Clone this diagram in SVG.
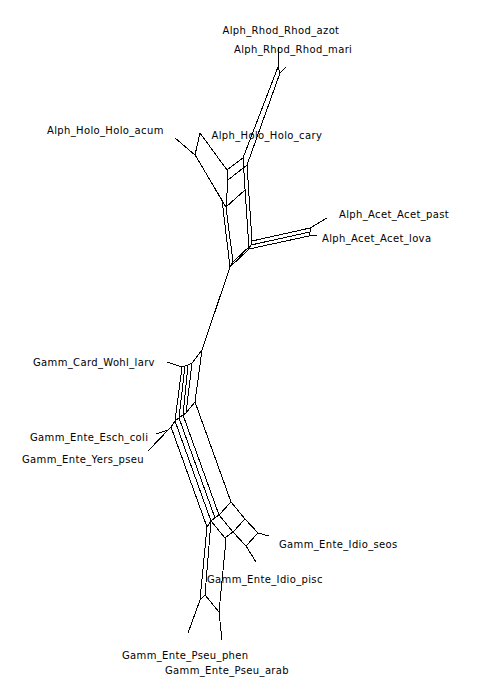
<svg xmlns="http://www.w3.org/2000/svg" width="479" height="700" viewBox="0 0 479 700">
<style>
.e{stroke:#000;stroke-width:1;fill:none;shape-rendering:crispEdges}
.t{font-family:"DejaVu Sans","Liberation Sans",sans-serif;font-size:10px;letter-spacing:0.35px;fill:#000}
</style>
<rect width="479" height="700" fill="#fff"/>
<g id="splits" class="e">
<!-- Alpha: Rhod box -->
<path d="M278,67 L280,73 M278,67 L243,158 M280,73 L247,165"/>
<!-- Holo region -->
<path d="M195,155 L200,133 L227,170 M195,155 L222,200 M195,155 L197,158 L224,204 L226,207"/>
<path d="M227,170 L228,180 L226,207 M227,170 L243,158 M228,180 L247,165 M226,207 L245,190"/>
<!-- vertical pairs -->
<path d="M243,158 L249,249 M247,165 L252,241 M222,200 L230,267 M226,207 L233,262"/>
<!-- root connectors -->
<path d="M252,241 L251,245 L249,249 M249,249 L230,267 M251,245 L233,262 M230,267 L233,262"/>
<!-- Acet -->
<path d="M252,241 L310,228 M251,245 L310,232 M249,249 L309,236 M310,228 L310,232 L309,236"/>
<!-- central edge -->
<path d="M230,267 L202,350"/>
<!-- Gamma top -->
<path d="M202,350 L192,363 L188,365 L185,366 L182,367"/>
<path d="M182,367 L175,421 M185,366 L179,418 M188,365 L183,415 M192,363 L186,413 M202,350 L195,402"/>
<path d="M171,427 L175,421 L179,418 L183,415 L186,413 L195,402 M168,430 L171,427"/>
<!-- descending band -->
<path d="M171,427 L207,527 M175,421 L211,521 M179,418 L215,518 M183,415 L219,515 M195,402 L231,502"/>
<path d="M207,527 L211,521 L215,518 L219,515 L231,502"/>
<!-- bottom grid -->
<path d="M231,502 L245,519 M219,515 L233,532 M211,521 L225,538"/>
<path d="M245,519 L233,532 L225,538"/>
<path d="M245,519 L258,533 M233,532 L246,546 M258,533 L246,546"/>
<!-- Pseu -->
<path d="M207,527 L200,600 M211,521 L205,595 M200,600 L205,595 M225,538 L225,550 L219,612 M205,595 L219,612"/>
</g>
<g id="taxon-Alph_Rhod_Rhod_azot"><path class="e" d="M278,47 L278,67"/><text class="t" x="222.5" y="33.5">Alph_Rhod_Rhod_azot</text></g>
<g id="taxon-Alph_Rhod_Rhod_mari"><path class="e" d="M286,67 L280,73"/><text class="t" x="234" y="52.5">Alph_Rhod_Rhod_mari</text></g>
<g id="taxon-Alph_Holo_Holo_acum"><path class="e" d="M175,138 L195,155"/><text class="t" x="47" y="134">Alph_Holo_Holo_acum</text></g>
<g id="taxon-Alph_Holo_Holo_cary"><text class="t" x="211.5" y="138.5">Alph_Holo_Holo_cary</text></g>
<g id="taxon-Alph_Acet_Acet_past"><path class="e" d="M310,228 L327,218"/><text class="t" x="339" y="218">Alph_Acet_Acet_past</text></g>
<g id="taxon-Alph_Acet_Acet_lova"><path class="e" d="M309,236 L317,235"/><text class="t" x="322" y="242">Alph_Acet_Acet_lova</text></g>
<g id="taxon-Gamm_Card_Wohl_larv"><path class="e" d="M167,362 L182,367"/><text class="t" x="33" y="366">Gamm_Card_Wohl_larv</text></g>
<g id="taxon-Gamm_Ente_Esch_coli"><path class="e" d="M156,434 L168,430"/><text class="t" x="30" y="441">Gamm_Ente_Esch_coli</text></g>
<g id="taxon-Gamm_Ente_Yers_pseu"><path class="e" d="M148,451 L171,427"/><text class="t" x="22" y="463">Gamm_Ente_Yers_pseu</text></g>
<g id="taxon-Gamm_Ente_Idio_seos"><path class="e" d="M258,533 L269,536"/><text class="t" x="279" y="548">Gamm_Ente_Idio_seos</text></g>
<g id="taxon-Gamm_Ente_Idio_pisc"><path class="e" d="M246,546 L256,562"/><text class="t" x="207" y="583">Gamm_Ente_Idio_pisc</text></g>
<g id="taxon-Gamm_Ente_Pseu_phen"><path class="e" d="M200,600 L188,633"/><text class="t" x="122" y="659">Gamm_Ente_Pseu_phen</text></g>
<g id="taxon-Gamm_Ente_Pseu_arab"><path class="e" d="M219,612 L222,640"/><text class="t" x="165" y="674">Gamm_Ente_Pseu_arab</text></g>
</svg>
